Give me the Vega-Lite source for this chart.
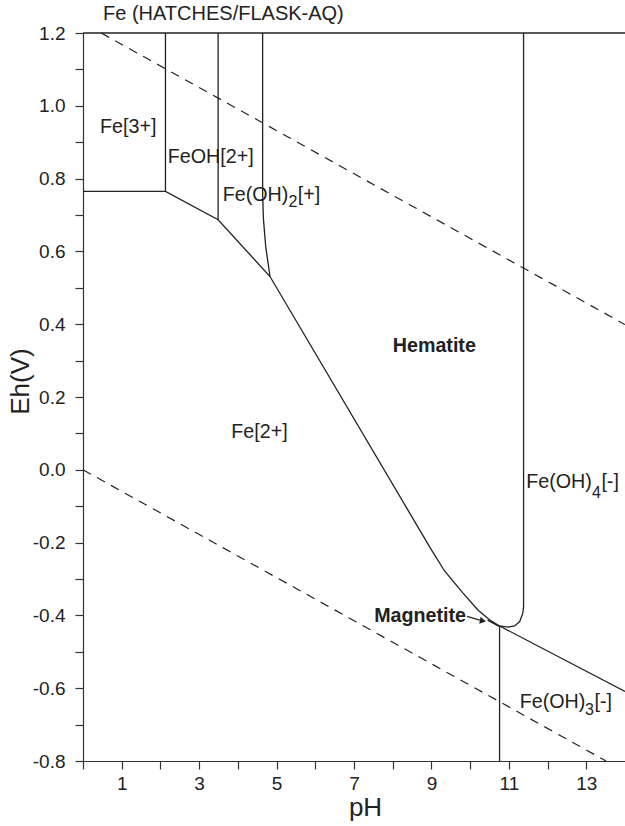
{
  "$schema": "https://vega.github.io/schema/vega-lite/v6.json",
  "width": 542,
  "height": 728,
  "autosize": {"type": "none"},
  "padding": {"left": 83, "top": 33, "right": 0, "bottom": 65},
  "background": "white",
  "config": {
    "view": {"stroke": null},
    "font": "Liberation Sans",
    "axis": {
      "grid": false,
      "domainColor": "#333",
      "tickColor": "#333",
      "labelColor": "#222",
      "titleColor": "#222",
      "labelFont": "Liberation Sans",
      "titleFont": "Liberation Sans",
      "labelFontSize": 19,
      "titleFontSize": 26,
      "titleFontWeight": "normal",
      "tickSize": 8,
      "domainWidth": 1.2,
      "tickWidth": 1.2
    }
  },
  "title": {
    "text": "Fe (HATCHES/FLASK-AQ)",
    "anchor": "start",
    "frame": "group",
    "dx": 20,
    "offset": 0,
    "fontSize": 20,
    "fontWeight": "normal",
    "font": "Liberation Sans",
    "color": "#222"
  },
  "datasets": {
    "lines": [
      {"s": "top", "k": "solid", "o": 1, "pH": 0, "Eh": 1.2},
      {"s": "top", "k": "solid", "o": 2, "pH": 14, "Eh": 1.2},
      {"s": "fe2", "k": "solid", "o": 1, "pH": 0, "Eh": 0.765},
      {"s": "fe2", "k": "solid", "o": 2, "pH": 2.13, "Eh": 0.765},
      {"s": "fe2", "k": "solid", "o": 3, "pH": 3.49, "Eh": 0.687},
      {"s": "fe2", "k": "solid", "o": 4, "pH": 4.83, "Eh": 0.531},
      {"s": "fe2", "k": "solid", "o": 5, "pH": 9.0, "Eh": -0.22},
      {"s": "fe2", "k": "solid", "o": 6, "pH": 9.34, "Eh": -0.278},
      {"s": "fe2", "k": "solid", "o": 7, "pH": 9.81, "Eh": -0.338},
      {"s": "fe2", "k": "solid", "o": 8, "pH": 10.2, "Eh": -0.385},
      {"s": "fe2", "k": "solid", "o": 9, "pH": 10.5, "Eh": -0.412},
      {"s": "fe2", "k": "solid", "o": 10, "pH": 10.76, "Eh": -0.429},
      {"s": "v1", "k": "solid", "o": 1, "pH": 2.13, "Eh": 0.765},
      {"s": "v1", "k": "solid", "o": 2, "pH": 2.13, "Eh": 1.2},
      {"s": "v2", "k": "solid", "o": 1, "pH": 3.49, "Eh": 0.687},
      {"s": "v2", "k": "solid", "o": 2, "pH": 3.49, "Eh": 1.2},
      {"s": "v3", "k": "solid", "o": 1, "pH": 4.64, "Eh": 1.2},
      {"s": "v3", "k": "solid", "o": 2, "pH": 4.64, "Eh": 0.76},
      {"s": "v3", "k": "solid", "o": 3, "pH": 4.66, "Eh": 0.69},
      {"s": "v3", "k": "solid", "o": 4, "pH": 4.72, "Eh": 0.613},
      {"s": "v3", "k": "solid", "o": 5, "pH": 4.83, "Eh": 0.531},
      {"s": "v4", "k": "solid", "o": 1, "pH": 11.38, "Eh": 1.2},
      {"s": "v4", "k": "solid", "o": 2, "pH": 11.38, "Eh": -0.376},
      {"s": "v4", "k": "solid", "o": 3, "pH": 11.36, "Eh": -0.394},
      {"s": "v4", "k": "solid", "o": 4, "pH": 11.28, "Eh": -0.417},
      {"s": "v4", "k": "solid", "o": 5, "pH": 11.15, "Eh": -0.429},
      {"s": "v4", "k": "solid", "o": 6, "pH": 10.98, "Eh": -0.432},
      {"s": "v4", "k": "solid", "o": 7, "pH": 10.76, "Eh": -0.429},
      {"s": "v5", "k": "solid", "o": 1, "pH": 10.76, "Eh": -0.429},
      {"s": "v5", "k": "solid", "o": 2, "pH": 10.76, "Eh": -0.8},
      {"s": "oh3", "k": "solid", "o": 1, "pH": 10.76, "Eh": -0.429},
      {"s": "oh3", "k": "solid", "o": 2, "pH": 14, "Eh": -0.609},
      {"s": "mag", "k": "solid", "o": 1, "pH": 10.45, "Eh": -0.413},
      {"s": "mag", "k": "solid", "o": 2, "pH": 10.76, "Eh": -0.431},
      {"s": "arrow", "k": "solid", "o": 1, "pH": 9.92, "Eh": -0.403},
      {"s": "arrow", "k": "solid", "o": 2, "pH": 10.25, "Eh": -0.413},
      {"s": "wu", "k": "dash", "o": 1, "pH": 0.47, "Eh": 1.2},
      {"s": "wu", "k": "dash", "o": 2, "pH": 14, "Eh": 0.399},
      {"s": "wl", "k": "dash", "o": 1, "pH": 0, "Eh": 0.0},
      {"s": "wl", "k": "dash", "o": 2, "pH": 13.51, "Eh": -0.8}
    ],
    "labels": [
      {"t": "Fe[3+]", "w": "normal", "pH": 0.44, "Eh": 0.942},
      {"t": "FeOH[2+]", "w": "normal", "pH": 2.19, "Eh": 0.86},
      {"t": "Fe(OH)", "w": "normal", "pH": 3.61, "Eh": 0.755},
      {"t": "[+]", "w": "normal", "pH": 5.55, "Eh": 0.755},
      {"t": "Fe[2+]", "w": "normal", "pH": 3.83, "Eh": 0.104},
      {"t": "Fe(OH)", "w": "normal", "pH": 11.45, "Eh": -0.033},
      {"t": "[-]", "w": "normal", "pH": 13.39, "Eh": -0.033},
      {"t": "Fe(OH)", "w": "normal", "pH": 11.28, "Eh": -0.637},
      {"t": "[-]", "w": "normal", "pH": 13.21, "Eh": -0.637},
      {"t": "Hematite", "w": "bold", "pH": 8.0, "Eh": 0.339},
      {"t": "Magnetite", "w": "bold", "pH": 7.52, "Eh": -0.403}
    ],
    "subs": [
      {"t": "2", "pH": 5.31, "Eh": 0.737},
      {"t": "4", "pH": 13.15, "Eh": -0.063},
      {"t": "3", "pH": 12.97, "Eh": -0.659}
    ],
    "heads": [
      {"pH": 10.33, "Eh": -0.415}
    ]
  },
  "encoding": {
    "x": {
      "field": "pH",
      "type": "quantitative",
      "scale": {"domain": [0, 14], "nice": false, "zero": false},
      "axis": {
        "title": "pH",
        "values": [0, 1, 2, 3, 4, 5, 6, 7, 8, 9, 10, 11, 12, 13],
        "labelExpr": "datum.value % 2 == 1 ? datum.label : ''",
        "labelPadding": 5,
        "titleBaseline": "alphabetic",
        "titleX": 282,
        "titleY": 54
      }
    },
    "y": {
      "field": "Eh",
      "type": "quantitative",
      "scale": {"domain": [-0.8, 1.2], "nice": false, "zero": false},
      "axis": {
        "title": "Eh(V)",
        "values": [-0.8, -0.7, -0.6, -0.5, -0.4, -0.3, -0.2, -0.1, 0, 0.1, 0.2, 0.3, 0.4, 0.5, 0.6, 0.7, 0.8, 0.9, 1.0, 1.1, 1.2],
        "labelExpr": "abs(round(datum.value * 10)) % 2 == 0 ? (datum.value < 0 ? '-' : '') + format(abs(datum.value), '.1f') : ''",
        "labelPadding": 10,
        "titleBaseline": "alphabetic",
        "titleX": -55,
        "titleY": 348
      }
    }
  },
  "layer": [
    {
      "data": {"name": "lines"},
      "transform": [{"filter": "datum.k == 'solid'"}],
      "mark": {"type": "line", "color": "#222", "strokeWidth": 1.3},
      "encoding": {
        "detail": {"field": "s"},
        "order": {"field": "o", "type": "quantitative"}
      }
    },
    {
      "data": {"name": "lines"},
      "transform": [{"filter": "datum.k == 'dash'"}],
      "mark": {"type": "line", "color": "#222", "strokeWidth": 1.2, "strokeDash": [9, 7]},
      "encoding": {
        "detail": {"field": "s"},
        "order": {"field": "o", "type": "quantitative"}
      }
    },
    {
      "data": {"name": "labels"},
      "transform": [{"filter": "datum.w == 'normal'"}],
      "mark": {"type": "text", "align": "left", "baseline": "middle", "fontSize": 19.7, "color": "#222", "font": "Liberation Sans"},
      "encoding": {"text": {"field": "t"}}
    },
    {
      "data": {"name": "labels"},
      "transform": [{"filter": "datum.w == 'bold'"}],
      "mark": {"type": "text", "align": "left", "baseline": "middle", "fontSize": 19.7, "fontWeight": "bold", "color": "#222", "font": "Liberation Sans"},
      "encoding": {"text": {"field": "t"}}
    },
    {
      "data": {"name": "subs"},
      "mark": {"type": "text", "align": "left", "baseline": "middle", "fontSize": 16, "color": "#222", "font": "Liberation Sans"},
      "encoding": {"text": {"field": "t"}}
    },
    {
      "data": {"name": "heads"},
      "mark": {"type": "point", "shape": "triangle-right", "filled": true, "color": "#222", "size": 50, "angle": 12, "opacity": 1}
    }
  ]
}
